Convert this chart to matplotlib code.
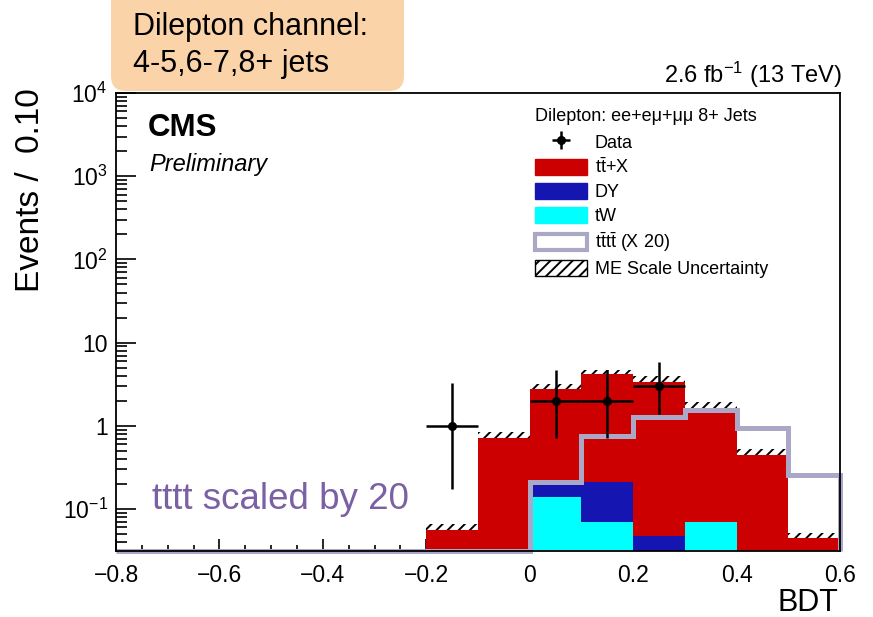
import numpy as np
import matplotlib
matplotlib.use("Agg")
import matplotlib.pyplot as plt
from matplotlib.patches import Patch, FancyBboxPatch
from matplotlib.ticker import FixedLocator, MultipleLocator, LogLocator, NullFormatter

plt.rcParams['font.family'] = ['Liberation Sans', 'DejaVu Sans']
plt.rcParams['mathtext.fontset'] = 'custom'
plt.rcParams['mathtext.rm'] = 'Liberation Sans'
plt.rcParams['mathtext.it'] = 'Liberation Sans:italic'
plt.rcParams['mathtext.bf'] = 'Liberation Sans:bold'
plt.rcParams['hatch.linewidth'] = 1.4

# ---------------- data ----------------
bin_edges = [-0.8, -0.7, -0.6, -0.5, -0.4, -0.3, -0.2, -0.1, 0.0, 0.1, 0.2, 0.3, 0.4, 0.5, 0.6]
ttX  = [0, 0, 0, 0, 0, 0, 0.056, 0.71, 2.565, 3.93, 3.36, 1.56, 0.448, 0.0445]
DY   = [0, 0, 0, 0, 0, 0, 0, 0, 0.055, 0.143, 0.048, 0, 0, 0]
tW   = [0, 0, 0, 0, 0, 0, 0, 0, 0.14, 0.070, 0, 0.070, 0, 0]
tttt_x20 = [0, 0, 0, 0, 0, 0, 0, 0, 0.209, 0.76, 1.29, 1.56, 0.94, 0.256]
me_scale_up = [0, 0, 0, 0, 0, 0, 0.066, 0.85, 3.2, 4.7, 4.0, 1.94, 0.53, 0.052]

data_x = [-0.15, 0.05, 0.15, 0.25]
data_y = [1, 2, 2, 3]
data_err_lo = [0.827, 1.29, 1.29, 1.63]
data_err_hi = [2.30, 2.64, 2.64, 2.92]
data_xerr = [0.05, 0.05, 0.05, 0.05]

xtick_vals = [-0.8, -0.6, -0.4, -0.2, 0.0, 0.2, 0.4, 0.6]
xtick_labels = ['\u22120.8', '\u22120.6', '\u22120.4', '\u22120.2', '0', '0.2', '0.4', '0.6']
ytick_vals = [0.1, 1, 10, 100, 1000, 10000]
ytick_labels = [r'$10^{-1}$', '1', '10', r'$10^{2}$', r'$10^{3}$', r'$10^{4}$']

# ---------------- style ----------------
c_ttx = '#cc0000'
c_dy = '#1515b2'
c_tw = '#00ffff'
c_tttt = '#aba8c7'
c_purple = '#7b61a4'
c_box = '#fbd3a8'
ymin, ymax = 0.0313, 1e4

W, H = 873, 617
fig = plt.figure(figsize=(W / 100, H / 100), dpi=100)
ax = fig.add_axes([116 / W, 1 - 551 / H, (840 - 116) / W, (551 - 93) / H])

edges = np.array(bin_edges)
left = edges[:-1]
width = np.diff(edges)
ttX_a, DY_a, tW_a = np.array(ttX), np.array(DY), np.array(tW)
total = ttX_a + DY_a + tW_a

ax.set_yscale('log')
ax.bar(left, tW_a, width=width, align='edge', color=c_tw, linewidth=0, zorder=2)
ax.bar(left, DY_a, bottom=tW_a, width=width, align='edge', color=c_dy, linewidth=0, zorder=2)
ax.bar(left, ttX_a, bottom=tW_a + DY_a, width=width, align='edge', color=c_ttx, linewidth=0, zorder=2)
unc = np.array(me_scale_up) - total
ax.bar(left, unc, bottom=total, width=width, align='edge', fill=False, hatch='///',
       edgecolor='black', linewidth=0, zorder=2.5)

ax.stairs(np.maximum(np.array(tttt_x20), ymin), edges, baseline=ymin, color=c_tttt,
          linewidth=3.6, zorder=3, clip_on=False)

eb = ax.errorbar(data_x, data_y, yerr=[data_err_lo, data_err_hi], xerr=data_xerr,
                 fmt='o', color='black', ms=5.5, lw=1.8, capsize=0, zorder=5)

ax.set_xlim(edges[0], edges[-1])
ax.set_ylim(ymin, ymax)
ax.xaxis.set_major_locator(FixedLocator(xtick_vals))
ax.set_xticklabels(xtick_labels)
ax.xaxis.set_minor_locator(MultipleLocator(0.05))
ax.yaxis.set_major_locator(FixedLocator(ytick_vals))
ax.set_yticklabels(ytick_labels)
ax.yaxis.set_minor_locator(LogLocator(base=10, subs=np.arange(2, 10)))
ax.yaxis.set_minor_formatter(NullFormatter())
ax.tick_params(axis='both', which='both', direction='in', width=1.2, labelsize=16.5)
ax.tick_params(axis='x', which='major', length=9, pad=9)
ax.tick_params(axis='x', which='minor', length=4.5)
ax.tick_params(axis='y', which='major', length=14.5, pad=6)
ax.tick_params(axis='y', which='minor', length=8)
for s in ax.spines.values():
    s.set_linewidth(1.3)
    s.set_zorder(4)

# axis titles
fig.text(838 / W, 1 - 611 / H, 'BDT', ha='right', va='baseline', fontsize=22)
fig.text(31 / W, 1 - 88 / H, 'Events /  0.10', ha='center', va='top', rotation=90, fontsize=24)

# labels in the plot
fig.text(148 / W, 1 - 136 / H, 'CMS', fontsize=22.5, fontweight='bold', va='baseline')
fig.text(149 / W, 1 - 171 / H, 'Preliminary', fontsize=17, style='italic', va='baseline')
fig.text(842 / W, 1 - 83 / H, r'2.6 fb$^{-1}$ (13 TeV)', fontsize=17, ha='right', va='baseline')
fig.text(152 / W, 1 - 509 / H, 'tttt scaled by 20', fontsize=26.5, color=c_purple, va='baseline')

# top box
box = FancyBboxPatch((111 / 100, (H - 91) / 100), 2.93, 1.5,
                     boxstyle='round,pad=0,rounding_size=0.15',
                     transform=fig.dpi_scale_trans, facecolor=c_box, edgecolor='none',
                     zorder=0)
fig.patches.append(box)
fig.text(133 / W, 1 - 35 / H, 'Dilepton channel:', fontsize=22, va='baseline')
fig.text(133 / W, 1 - 72 / H, '4-5,6-7,8+ jets', fontsize=22, va='baseline')

# legend
handles = [eb,
           Patch(facecolor=c_ttx, edgecolor=c_ttx),
           Patch(facecolor=c_dy, edgecolor=c_dy),
           Patch(facecolor=c_tw, edgecolor=c_tw),
           Patch(facecolor='white', edgecolor=c_tttt, linewidth=3),
           Patch(facecolor='white', edgecolor='black', hatch='///', linewidth=1)]
labels = ['Data', r'$\mathrm{t\bar{t}}$+X', 'DY', 'tW',
          r'$\mathrm{t\bar{t}t\bar{t}}$ (X 20)', 'ME Scale Uncertainty']
leg = fig.legend(handles, labels, loc='upper left',
                 bbox_to_anchor=(535 / W, 1 - 108 / H),
                 title='Dilepton: ee+e\u03bc+\u03bc\u03bc 8+ Jets', title_fontsize=13,
                 alignment='left', fontsize=13, frameon=False, borderpad=0,
                 handlelength=2.9, handleheight=1.0, handletextpad=0.4,
                 labelspacing=0.32, borderaxespad=0)
leg._legend_box.sep = 6

fig.savefig('out.png', dpi=100)
